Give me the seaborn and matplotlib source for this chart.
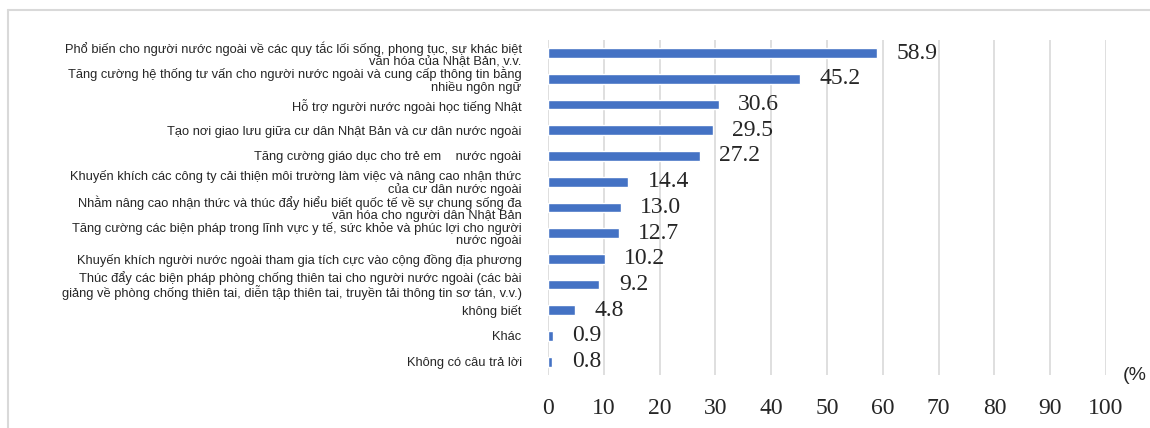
import matplotlib
matplotlib.use("Agg")
import matplotlib.pyplot as plt
import pandas as pd
import seaborn as sns
from matplotlib.lines import Line2D

CATEGORIES = [
    "Phổ biến cho người nước ngoài về các quy tắc lối sống, phong tục, sự khác biệt\nvăn hóa của Nhật Bản, v.v.",
    "Tăng cường hệ thống tư vấn cho người nước ngoài và cung cấp thông tin bằng\nnhiều ngôn ngữ",
    "Hỗ trợ người nước ngoài học tiếng Nhật",
    "Tạo nơi giao lưu giữa cư dân Nhật Bản và cư dân nước ngoài",
    "Tăng cường giáo dục cho trẻ em    nước ngoài",
    "Khuyến khích các công ty cải thiện môi trường làm việc và nâng cao nhận thức\ncủa cư dân nước ngoài",
    "Nhằm nâng cao nhận thức và thúc đẩy hiểu biết quốc tế về sự chung sống đa\nvăn hóa cho người dân Nhật Bản",
    "Tăng cường các biện pháp trong lĩnh vực y tế, sức khỏe và phúc lợi cho người\nnước ngoài",
    "Khuyến khích người nước ngoài tham gia tích cực vào cộng đồng địa phương",
    "Thúc đẩy các biện pháp phòng chống thiên tai cho người nước ngoài (các bài\ngiảng về phòng chống thiên tai, diễn tập thiên tai, truyền tải thông tin sơ tán, v.v.)",
    "không biết",
    "Khác",
    "Không có câu trả lời",
]
VALUES = [58.9, 45.2, 30.6, 29.5, 27.2, 14.4, 13.0, 12.7, 10.2, 9.2, 4.8, 0.9, 0.8]
X_TICKS = [0, 10, 20, 30, 40, 50, 60, 70, 80, 90, 100]
UNIT_LABEL = "(%"

BAR_COLOR = "#4472C4"
GRID_COLOR = "#D9D9D9"
SANS = ["Liberation Sans", "DejaVu Sans"]
SERIF = ["Liberation Serif", "DejaVu Serif"]

W, H = 1150, 428

sns.set_style("white")
plt.rcParams["font.family"] = SANS

df = pd.DataFrame({"category": CATEGORIES, "value": VALUES})

fig = plt.figure(figsize=(W / 100, H / 100), dpi=100)
ax = fig.add_axes([548 / W, 1 - 374.5 / H, (1106 - 548) / W, (374.5 - 40.3) / H])

sns.barplot(data=df, x="value", y="category", orient="h", color=BAR_COLOR,
            width=0.38, saturation=1, ax=ax)

ax.set_xlim(0, 100)
ax.set_xticks(X_TICKS)
ax.set_xticklabels([str(t) for t in X_TICKS], family=SERIF, fontsize=17)
ax.set_yticklabels(CATEGORIES, family=SANS, fontsize=9.3, linespacing=1.0)
ax.tick_params(axis="x", length=0, pad=17)
ax.tick_params(axis="y", length=0, pad=19)
ax.set_xlabel("")
ax.set_ylabel("")
ax.xaxis.grid(True, color=GRID_COLOR, linewidth=1.2)
ax.set_axisbelow(True)
for s in ax.spines.values():
    s.set_visible(False)

for c in ax.containers:
    ax.bar_label(c, fmt="%.1f", padding=14, family=SERIF, fontsize=17)

fig.text(1123 / W, 1 - 376 / H, UNIT_LABEL, family=SANS, fontsize=14,
         ha="left", va="center")

# light frame of the chart area (left and top edges visible)
fig.add_artist(Line2D([8 / W, 8 / W], [0, 1 - 10 / H], color=GRID_COLOR,
                      linewidth=1.5, transform=fig.transFigure))
fig.add_artist(Line2D([8 / W, 1], [1 - 10 / H, 1 - 10 / H], color=GRID_COLOR,
                      linewidth=1.5, transform=fig.transFigure))

fig.savefig("out.png", dpi=100)
